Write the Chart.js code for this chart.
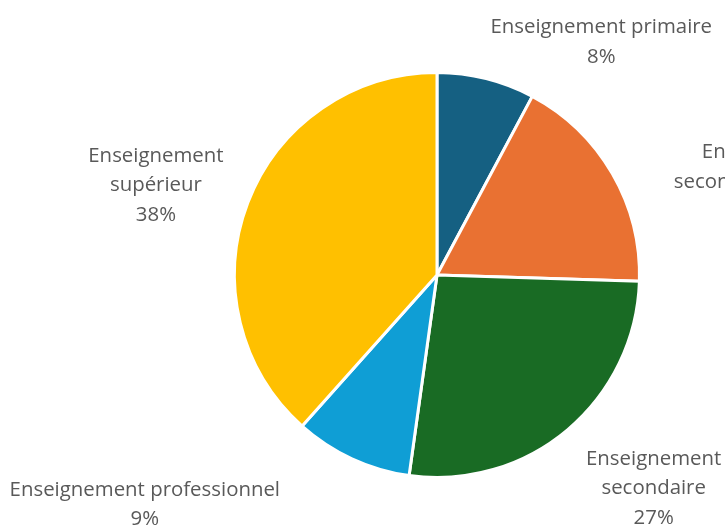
<!DOCTYPE html>
<html>
<head>
<meta charset="utf-8">
<script src="https://cdn.jsdelivr.net/npm/chart.js@4"></script>
<style>
  html, body { margin: 0; padding: 0; background: #ffffff; }
  #wrap { width: 725px; height: 525px; }
</style>
</head>
<body>
<div id="wrap"><canvas id="c" width="725" height="525"></canvas></div>
<script>
const categories = [
  "Enseignement primaire",
  "Enseignement secondaire inférieur",
  "Enseignement secondaire",
  "Enseignement professionnel",
  "Enseignement supérieur"
];
const labelLines = [
  ["Enseignement primaire"],
  ["Enseignement", "secondaire inférieur"],
  ["Enseignement", "secondaire"],
  ["Enseignement professionnel"],
  ["Enseignement", "supérieur"]
];
const values = [7.8, 17.7, 26.7, 9.4, 38.4];
const colors = ["#156082", "#E97132", "#196B24", "#0F9ED5", "#FFC000"];

// label anchor offsets, in units of the pie radius, from the pie centre
const labelAnchors = [
  [0.811, -1.149],
  [1.642, -0.46],
  [1.07, 1.055],
  [-1.443, 1.134],
  [-1.388, -0.443]
];

const total = values.reduce((a, b) => a + b, 0);

const labelPlugin = {
  id: 'outLabels',
  afterDatasetsDraw(chart) {
    const ctx = chart.ctx;
    const meta = chart.getDatasetMeta(0);
    ctx.save();
    ctx.fillStyle = '#595959';
    ctx.font = '20.4px "Open Sans"';
    ctx.textAlign = 'center';
    ctx.textBaseline = 'middle';
    const lh = 29.5;
    meta.data.forEach((arc, i) => {
      const r = arc.outerRadius;
      const cx = arc.x + labelAnchors[i][0] * r;
      const cy = arc.y + labelAnchors[i][1] * r;
      const pct = Math.round(values[i] / total * 100) + '%';
      const lines = labelLines[i].concat([pct]);
      const startY = cy - (lines.length - 1) * lh / 2;
      lines.forEach((t, k) => ctx.fillText(t, cx, startY + k * lh));
    });
    ctx.restore();
  }
};

new Chart(document.getElementById('c'), {
  type: 'pie',
  data: {
    labels: categories,
    datasets: [{
      data: values,
      backgroundColor: colors,
      borderColor: '#ffffff',
      borderWidth: 3
    }]
  },
  options: {
    responsive: false,
    animation: false,
    layout: { padding: { left: 233, right: 84, top: 71, bottom: 46 } },
    plugins: {
      legend: { display: false },
      tooltip: { enabled: false }
    }
  },
  plugins: [labelPlugin]
});
</script>
</body>
</html>
